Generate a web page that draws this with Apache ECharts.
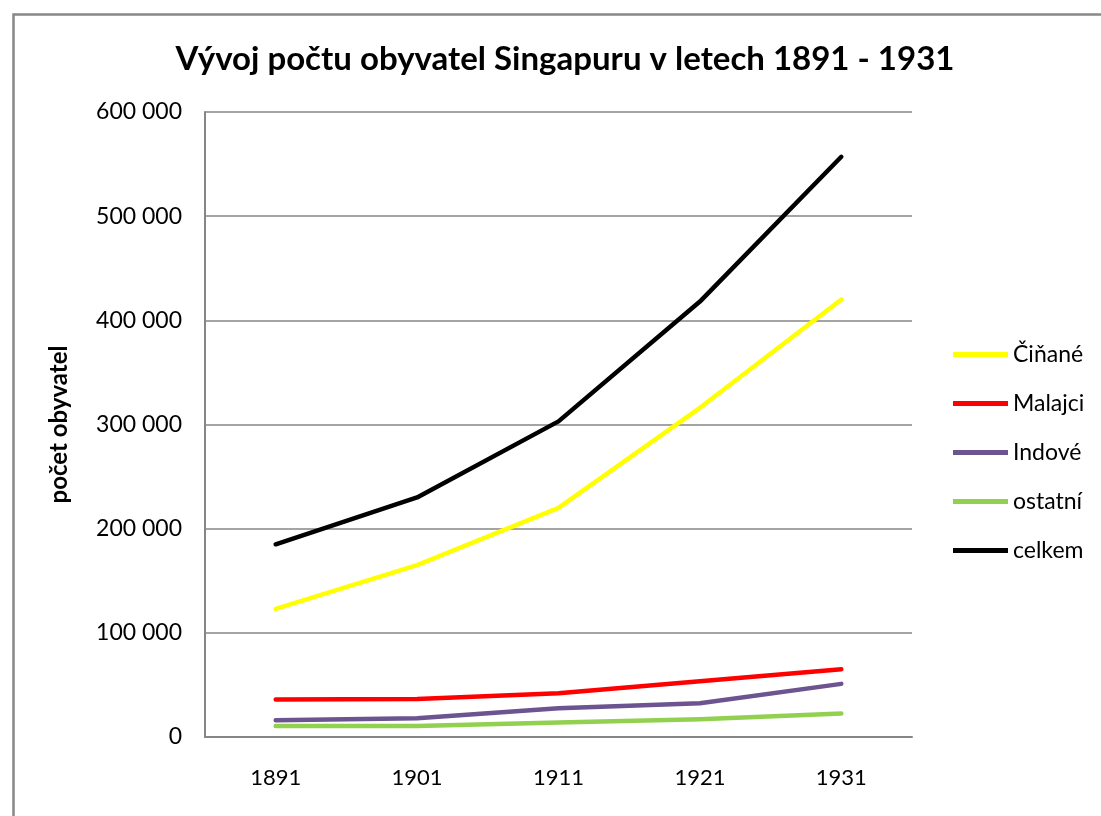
<!DOCTYPE html>
<html>
<head>
<meta charset="utf-8">
<title>Vývoj počtu obyvatel Singapuru</title>
<script src="https://cdn.jsdelivr.net/npm/echarts@6/dist/echarts.min.js"></script>
<style>
  html, body { margin: 0; padding: 0; background: #fff; }
  #chart { width: 1101px; height: 816px; }
</style>
</head>
<body>
<div id="chart"></div>
<script>
// roky scitani
var years = ['1891', '1901', '1911', '1921', '1931'];

// hodnoty
var cinane  = [123000, 165000, 220000, 316000, 420000];
var malajci = [36000, 36500, 42000, 53500, 65000];
var indove  = [16000, 18000, 27500, 32500, 51000];
var ostatni = [10500, 10500, 14000, 17000, 22500];
var celkem  = [185000, 230000, 303000, 418000, 557000];

var names  = ['Čiňané', 'Malajci', 'Indové', 'ostatní', 'celkem'];
var colors = ['#FFFF00', '#FF0000', '#6B548F', '#92D050', '#000000'];
var values = [cinane, malajci, indove, ostatni, celkem];

var FONT = 'Lato, "Open Sans", sans-serif';

var fmt = function (v) {
  // mezera jako oddelovac tisicu
  return String(v).replace(/\B(?=(\d{3})+(?!\d))/g, ' ');
};

var series = [];
for (var i = 0; i < names.length; i++) {
  series.push({
    name: names[i],
    type: 'line',
    data: values[i],
    symbol: 'none',
    smooth: false,
    lineStyle: { width: 4.5, color: colors[i], cap: 'round', join: 'round' },
    itemStyle: { color: colors[i] }
  });
}

var chart = echarts.init(document.getElementById('chart'));
chart.setOption({
  backgroundColor: '#fff',
  animation: false,
  title: {
    text: 'Vývoj počtu obyvatel Singapuru v letech 1891 - 1931',
    left: 560,
    top: 38,
    textAlign: 'center',
    textStyle: { fontFamily: FONT, fontSize: 33, fontWeight: 'bold', color: '#000' }
  },
  graphic: [{
    type: 'rect',
    left: 11, top: 12,
    shape: { width: 1200, height: 900 },
    style: { fill: 'none', stroke: '#888', lineWidth: 2.5 },
    silent: true
  }],
  legend: {
    orient: 'vertical',
    left: 953,
    top: 343,
    padding: 0,
    itemWidth: 55,
    itemHeight: 5,
    itemGap: 26,
    icon: 'rect',
    textStyle: { fontFamily: FONT, fontSize: 23, color: '#000', lineHeight: 22 },
    data: names
  },
  grid: { left: 205, top: 112, width: 707, height: 625, containLabel: false },
  xAxis: {
    type: 'category',
    data: years,
    boundaryGap: true,
    axisLine: { lineStyle: { color: '#868686', width: 2 } },
    axisTick: { show: false },
    axisLabel: { fontFamily: FONT, fontSize: 22, color: '#000', margin: 30 }
  },
  yAxis: {
    type: 'value',
    min: 0, max: 600000, interval: 100000,
    name: 'počet obyvatel',
    nameLocation: 'middle',
    nameGap: 134,
    nameTextStyle: { fontFamily: FONT, fontSize: 24, fontWeight: 'bold', color: '#000' },
    axisLine: { show: true, lineStyle: { color: '#868686', width: 2 } },
    axisTick: { show: false },
    splitLine: { lineStyle: { color: '#868686', width: 1.5 } },
    axisLabel: { fontFamily: FONT, fontSize: 23, color: '#000', margin: 23, formatter: fmt }
  },
  series: series
});
</script>
</body>
</html>
